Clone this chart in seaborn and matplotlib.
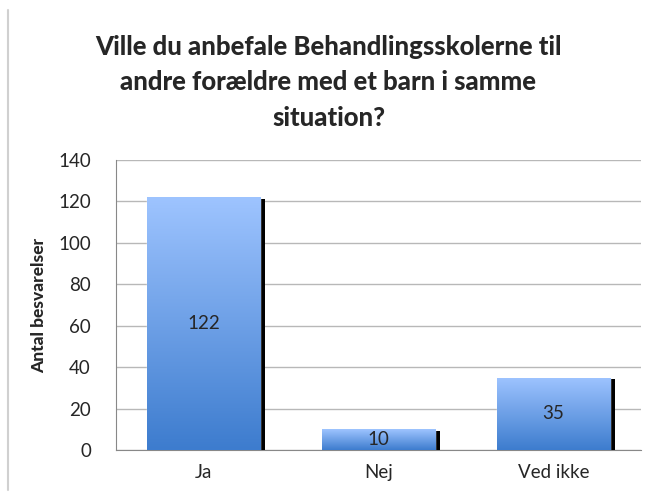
import numpy as np
import pandas as pd
import seaborn as sns
import matplotlib.pyplot as plt
import matplotlib.patheffects as pe
from matplotlib.colors import LinearSegmentedColormap
from matplotlib.lines import Line2D

# data
svar = ["Ja", "Nej", "Ved ikke"]
antal = [122, 10, 35]
df = pd.DataFrame({"svar": svar, "antal": antal})

sns.set_style("white")
plt.rcParams["font.family"] = ["Lato", "DejaVu Sans"]

fig = plt.figure(figsize=(6.57, 4.95), dpi=100)
ax = fig.add_axes([116 / 657, 45 / 495, 525 / 657, 290 / 495])

sns.barplot(data=df, x="svar", y="antal", color="#6a9be0", width=0.65, ax=ax, zorder=3)

ax.set_ylim(0, 140)
ax.set_yticks(range(0, 141, 20))
ax.set_xlim(-0.5, 2.5)
ax.yaxis.grid(True, color="#b8b8b8", lw=1, zorder=0)
ax.set_axisbelow(True)
for s in ["top", "right"]:
    ax.spines[s].set_visible(False)
ax.spines["left"].set_color("#888888")
ax.spines["bottom"].set_color("#888888")
ax.tick_params(axis="y", labelsize=13.5, length=0, pad=18)
ax.tick_params(axis="x", labelsize=13.5, length=0, pad=10)
ax.set_xlabel("")
ax.set_ylabel("Antal besvarelser", fontsize=12.5, fontweight="black", labelpad=8)

# gradient fill and shadow
cmap = LinearSegmentedColormap.from_list("blå", ["#3d7cce", "#9ec4ff"])
grad = np.linspace(0, 1, 256).reshape(-1, 1)
for p, v in zip(ax.patches, antal):
    p.set_path_effects([pe.SimplePatchShadow(offset=(3.5, -1.2), shadow_rgbFace="black", alpha=1), pe.Normal()])
    x0, w = p.get_x(), p.get_width()
    im = ax.imshow(grad, cmap=cmap, aspect="auto", origin="lower",
                   extent=[x0, x0 + w, 0, v], zorder=4)
    im.set_clip_path(p)
    ax.text(x0 + w / 2, v / 2, str(v), ha="center", va="center", fontsize=13.5, zorder=5)
ax.set_xlim(-0.5, 2.5)
ax.set_ylim(0, 140)

fig.suptitle("Ville du anbefale Behandlingsskolerne til\nandre forældre med et barn i samme\nsituation?",
             fontsize=18.5, fontweight="black", y=0.93, linespacing=1.58)

fig.add_artist(Line2D([8 / 657, 8 / 657], [5 / 495, 1 - 10 / 495], color="#d0d0d0", lw=1.5))

fig.savefig("out.png", dpi=100)
